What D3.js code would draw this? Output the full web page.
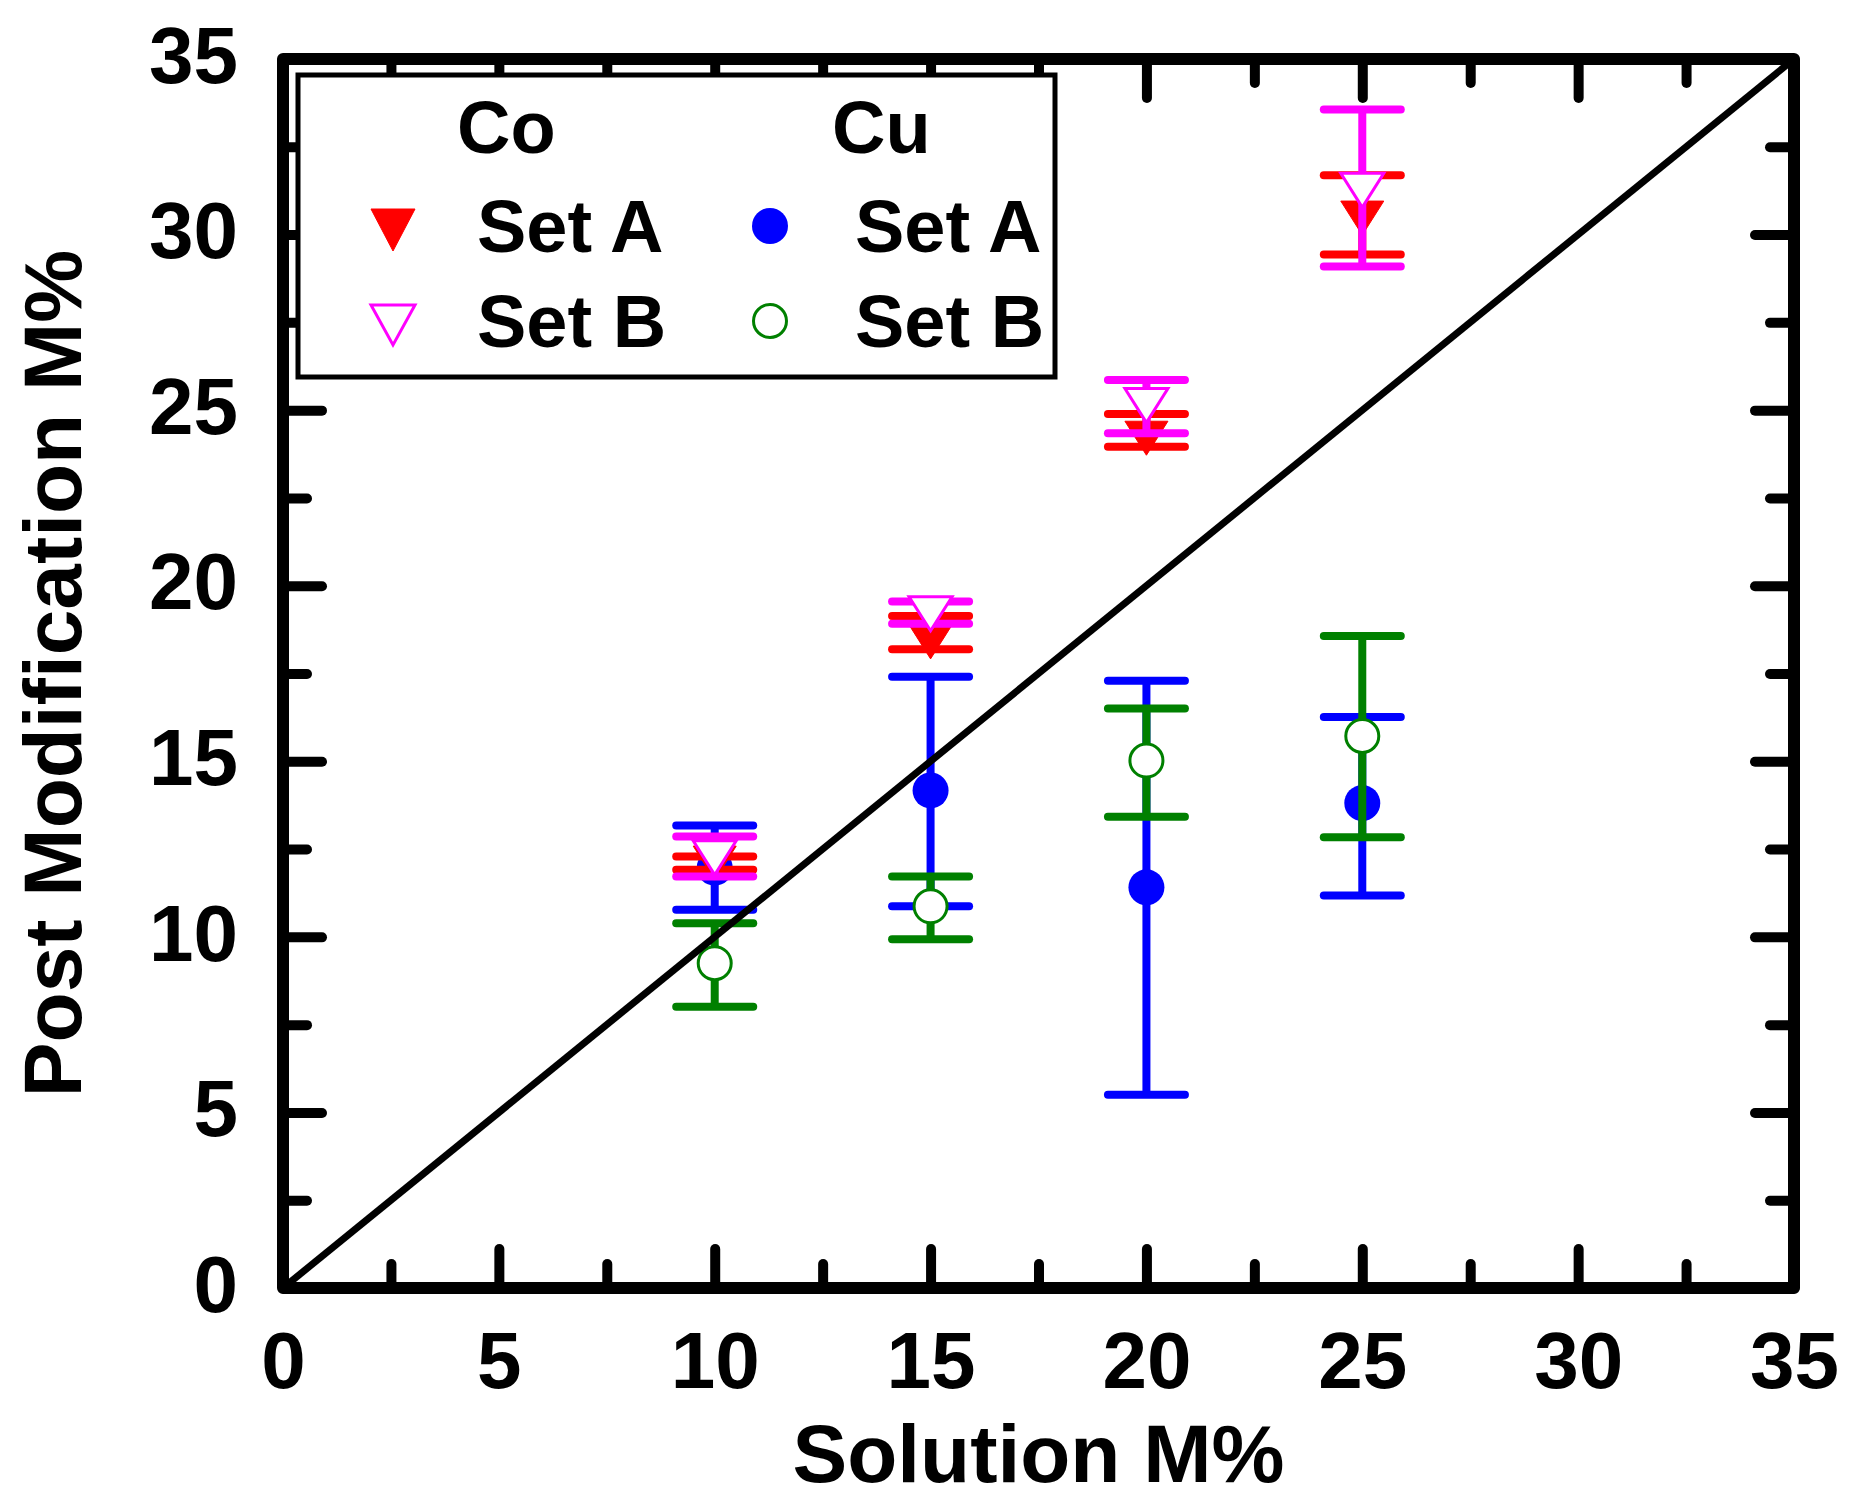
<!DOCTYPE html>
<html lang="en">
  <head>
    <meta charset="utf-8">
    <title>Post Modification vs Solution M%</title>
    <script src="https://cdn.jsdelivr.net/npm/d3@7/dist/d3.min.js"></script>
    <style>
      body { margin: 0; background: #fff; }
      text { font-family: "Liberation Sans", Arial, Helvetica, sans-serif; font-weight: bold; }
    </style>
  </head>
  <body>
    <script>

      /*
      DATA
       */

      const solution = [10, 15, 20, 25];

      // Co, set A (red filled down triangles)
      const coA = [12.1, 18.4, 24.2, 30.47];
      const coA_hi = [12.29, 19.14, 24.89, 31.69];
      const coA_lo = [11.91, 18.19, 23.96, 29.43];

      // Co, set B (magenta open down triangles)
      const coB = [12.25, 19.2, 25.13, 31.26];
      const coB_hi = [12.86, 19.55, 25.86, 33.56];
      const coB_lo = [11.72, 18.92, 24.34, 29.09];

      // Cu, set A (blue filled circles)
      const cuA = [11.97, 14.17, 11.41, 13.81];
      const cuA_hi = [13.17, 17.41, 17.29, 16.26];
      const cuA_lo = [10.77, 10.87, 5.50, 11.18];

      // Cu, set B (green open circles)
      const cuB = [9.25, 10.87, 15.02, 15.72];
      const cuB_hi = [10.39, 11.72, 16.50, 18.57];
      const cuB_lo = [8.01, 9.93, 13.42, 12.84];

      // y = x reference line
      const diag_x = [0, 35];
      const diag_y = [0, 35];

      const major_ticks = [0, 5, 10, 15, 20, 25, 30, 35];
      const minor_ticks = [2.5, 7.5, 12.5, 17.5, 22.5, 27.5, 32.5];

      const x_title = "Solution M%";
      const y_title = "Post Modification M%";
      const legend_groups = ["Co", "Cu"];
      const legend_labels = ["Set A", "Set B"];

      /*
      LAYOUT
       */

      const SVG_W = 1849;
      const SVG_H = 1503;
      const X_LEFT = 283;
      const X_RIGHT = 1794;
      const Y_BOTTOM = 1288;
      const Y_TOP = 59;

      const FRAME_W = 12;
      const TICK_MAJOR = 39;
      const TICK_MINOR = 24;
      const TICK_W = 10;
      const TICK_FONT = 80;
      const TITLE_FONT = 82;
      const LEGEND_FONT = 74;

      const CAP_W = 77;
      const BAR_W = 8;
      const TRI_W = 43;
      const TRI_H = 34;
      const CIRCLE_R = 18;

      const RED = "#ff0000";
      const MAGENTA = "#ff00ff";
      const BLUE = "#0000ff";
      const GREEN = "#008000";

      let x = d3.scaleLinear().domain([0, 35]).range([X_LEFT, X_RIGHT]);
      let y = d3.scaleLinear().domain([0, 35]).range([Y_BOTTOM, Y_TOP]);

      let svg = d3.select("body").append("svg")
        .attr("width", SVG_W)
        .attr("height", SVG_H)
      ;
      svg.append("rect").attr("width", SVG_W).attr("height", SVG_H).attr("fill", "#fff");

      /* axes: ticks point inwards on all four sides */

      function style_ticks(g, w){
        g.select(".domain").remove();
        g.selectAll(".tick line")
          .attr("stroke", "#000")
          .attr("stroke-width", w)
          .attr("stroke-linecap", "round");
        g.selectAll(".tick text")
          .attr("fill", "#000")
          .attr("font-size", TICK_FONT);
      }

      function add_axis(axis_fn, scale, vals, size, transform, pad, labels){
        let ax = axis_fn(scale).tickValues(vals).tickSize(-size).tickPadding(pad);
        if (!labels) ax.tickFormat("");
        let g = svg.append("g").attr("transform", transform).call(ax);
        style_ticks(g, TICK_W);
        return g;
      }

      let gxb = add_axis(d3.axisBottom, x, major_ticks, TICK_MAJOR, "translate(0," + Y_BOTTOM + ")", 43, true);
      gxb.selectAll(".tick text").attr("dy", "0.71em");
      add_axis(d3.axisBottom, x, minor_ticks, TICK_MINOR, "translate(0," + Y_BOTTOM + ")", 0, false);
      add_axis(d3.axisTop, x, major_ticks, TICK_MAJOR, "translate(0," + Y_TOP + ")", 0, false);
      add_axis(d3.axisTop, x, minor_ticks, TICK_MINOR, "translate(0," + Y_TOP + ")", 0, false);

      let gyl = add_axis(d3.axisLeft, y, major_ticks, TICK_MAJOR, "translate(" + X_LEFT + ",0)", 45, true);
      gyl.selectAll(".tick text").attr("dy", "0.29em");
      add_axis(d3.axisLeft, y, minor_ticks, TICK_MINOR, "translate(" + X_LEFT + ",0)", 0, false);
      add_axis(d3.axisRight, y, major_ticks, TICK_MAJOR, "translate(" + X_RIGHT + ",0)", 0, false);
      add_axis(d3.axisRight, y, minor_ticks, TICK_MINOR, "translate(" + X_RIGHT + ",0)", 0, false);

      // frame
      svg.append("rect")
        .attr("x", X_LEFT)
        .attr("y", Y_TOP)
        .attr("width", X_RIGHT - X_LEFT)
        .attr("height", Y_BOTTOM - Y_TOP)
        .attr("fill", "none")
        .attr("stroke", "#000")
        .attr("stroke-width", FRAME_W)
        .attr("stroke-linejoin", "round")
      ;

      // axis titles
      svg.append("text")
        .attr("x", (X_LEFT + X_RIGHT) / 2)
        .attr("y", 1482)
        .attr("text-anchor", "middle")
        .attr("font-size", TITLE_FONT)
        .text(x_title)
      ;
      svg.append("text")
        .attr("transform", "translate(81," + (Y_TOP + Y_BOTTOM) / 2 + ") rotate(-90)")
        .attr("text-anchor", "middle")
        .attr("font-size", TITLE_FONT)
        .text(y_title)
      ;

      /* markers */

      function down_triangle(w, h){
        return "M" + (-w/2) + "," + (-h/2) + "L" + (w/2) + "," + (-h/2) + "L0," + (h/2) + "Z";
      }

      function add_marker(g, cx, cy, shape, color, filled){
        if (shape === "tri"){
          return g.append("path")
            .attr("transform", "translate(" + cx + "," + cy + ")")
            .attr("d", down_triangle(TRI_W, TRI_H))
            .attr("fill", filled ? color : "#fff")
            .attr("stroke", color)
            .attr("stroke-width", filled ? 1 : 3)
            .attr("stroke-linejoin", "miter");
        }
        return g.append("circle")
          .attr("cx", cx)
          .attr("cy", cy)
          .attr("r", filled ? CIRCLE_R : CIRCLE_R - 1.5)
          .attr("fill", filled ? color : "#fff")
          .attr("stroke", color)
          .attr("stroke-width", filled ? 0 : 3);
      }

      function add_series(vals, lo, hi, color, shape, filled){
        let g = svg.append("g");
        solution.forEach(function(s, i){
          let cx = x(s);
          g.append("line")
            .attr("x1", cx).attr("x2", cx)
            .attr("y1", y(lo[i])).attr("y2", y(hi[i]))
            .attr("stroke", color).attr("stroke-width", BAR_W);
          [lo[i], hi[i]].forEach(function(v){
            g.append("line")
              .attr("x1", cx - CAP_W/2).attr("x2", cx + CAP_W/2)
              .attr("y1", y(v)).attr("y2", y(v))
              .attr("stroke", color).attr("stroke-width", BAR_W)
              .attr("stroke-linecap", "round");
          });
        });
        solution.forEach(function(s, i){
          add_marker(g, x(s), y(vals[i]), shape, color, filled);
        });
      }

      add_series(cuA, cuA_lo, cuA_hi, BLUE, "circle", true);
      add_series(cuB, cuB_lo, cuB_hi, GREEN, "circle", false);
      add_series(coA, coA_lo, coA_hi, RED, "tri", true);
      add_series(coB, coB_lo, coB_hi, MAGENTA, "tri", false);

      // y = x line on top
      svg.append("path")
        .datum(diag_x.map(function(d, i){ return [d, diag_y[i]]; }))
        .attr("d", d3.line().x(function(d){ return x(d[0]); }).y(function(d){ return y(d[1]); }))
        .attr("stroke", "#000")
        .attr("stroke-width", 7)
        .attr("fill", "none")
      ;

      /* legend */

      let legend = svg.append("g");
      legend.append("rect")
        .attr("x", 298).attr("y", 75)
        .attr("width", 1055 - 298).attr("height", 377 - 75)
        .attr("fill", "#fff")
        .attr("stroke", "#000")
        .attr("stroke-width", 5)
      ;

      const LEG_HEAD_X = [457, 832];
      const LEG_SYM_X = [393, 770];
      const LEG_TEXT_X = [477, 855];
      const LEG_ROW_Y = [252, 347];
      const LEG_COLORS = [[RED, MAGENTA], [BLUE, GREEN]];
      const LEG_SHAPES = ["tri", "circle"];

      legend_groups.forEach(function(name, gi){
        legend.append("text")
          .attr("x", LEG_HEAD_X[gi]).attr("y", 153)
          .attr("font-size", LEGEND_FONT)
          .text(name);
        legend_labels.forEach(function(lab, li){
          let cy = LEG_ROW_Y[li] - 22;
          if (LEG_SHAPES[gi] === "tri"){
            legend.append("path")
              .attr("transform", "translate(" + LEG_SYM_X[gi] + "," + cy + ")")
              .attr("d", down_triangle(44, li === 0 ? 42 : 40))
              .attr("fill", li === 0 ? LEG_COLORS[gi][li] : "#fff")
              .attr("stroke", LEG_COLORS[gi][li])
              .attr("stroke-width", li === 0 ? 1 : 3);
          } else {
            add_marker(legend, LEG_SYM_X[gi], cy - 4, "circle", LEG_COLORS[gi][li], li === 0);
          }
          legend.append("text")
            .attr("x", LEG_TEXT_X[gi]).attr("y", LEG_ROW_Y[li])
            .attr("font-size", LEGEND_FONT)
            .text(lab);
        });
      });

    </script>
  </body>
</html>
